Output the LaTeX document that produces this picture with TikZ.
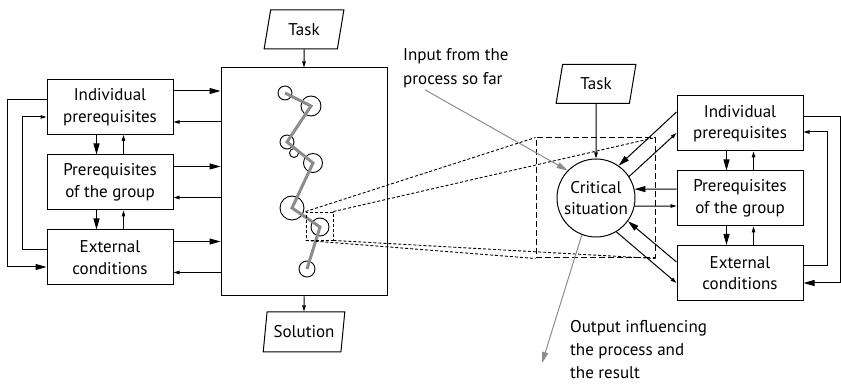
\documentclass[tikz,border=0pt]{standalone}
\usepackage{fontspec}
\setmainfont{PT Sans}
\usetikzlibrary{arrows.meta,shapes.geometric,calc}

\begin{document}
\begin{tikzpicture}[x=1pt,y=-1pt,
      every node/.style={font=\fontsize{17}{21.5}\selectfont},
      fbox/.style={draw,line width=1pt,minimum width=126pt,minimum height=55pt,align=center,inner sep=1pt},
      iobox/.style={draw,line width=1pt,trapezium,trapezium left angle=77,trapezium right angle=103,trapezium stretches=true,minimum width=80pt,minimum height=39pt,inner sep=1pt},
      sit/.style={draw,circle,line width=0.9pt,inner sep=0pt},
      big/.style={-{Triangle[length=11pt,width=6pt]},line width=1pt},
      small/.style={-{Triangle[length=6pt,width=3.5pt]},line width=1pt},
      grey/.style={-{Triangle[length=11pt,width=6pt]},line width=1pt,draw=black!45},
      fine/.style={line width=0.9pt,dash pattern=on 3pt off 2pt},
      coarse/.style={line width=1pt,dash pattern=on 6pt off 3pt},
      note/.style={anchor=north west,align=left,inner sep=0pt}]
    \useasboundingbox (0,0) rectangle (841,387);
    % Left column: influencing factors
    \node[fbox] (lb1) at (110,107) {Individual\\prerequisites};
    \node[fbox] (lb2) at (110,182.5) {Prerequisites\\of the group};
    \node[fbox] (lb3) at (110,257.5) {External\\conditions};
    % Process box with task and solution
    \node[draw,line width=1pt,minimum width=166pt,minimum height=228pt] (proc) at (304,182) {};
    \node[iobox] (task) at (304,29.5) {Task};
    \node[iobox,minimum width=82pt,minimum height=40pt] (sol) at (304,332) {Solution};
    \draw[small] (task.south) -- (proc.north);
    \draw[small] (proc.south) -- (sol.north);
    % Chain of situations inside the process
    \foreach \n/\x/\y/\d in {1/285/93/14, 2/311/106/20, 3/287/142/14, 4/294/153/9,
                             5/313/163/19, 6/292/208/24, 7/320/227/18, 8/307/269/16}
      \node[sit,minimum size=\d pt] (s\n) at (\x,\y) {};
    \draw[line width=3pt,black!45] (s1.center) -- (s2.center) -- (s3.center) -- (s5.center)
      -- (s6.center) -- (s7.center) -- (s8.center);
    % Left column <-> process
    \foreach \b in {lb1,lb2,lb3}{
      \draw[big] ($(\b.east)+(0,-16)$) -- ($(\b.east -| proc.west)+(0,-16)$);
      \draw[small] ($(\b.east -| proc.west)+(0,15)$) -- ($(\b.east)+(0,15)$);
    }
    % Right column: the same factors
    \node[fbox] (rb1) at (740,123.5) {Individual\\prerequisites};
    \node[fbox] (rb2) at (740,198.5) {Prerequisites\\of the group};
    \node[fbox] (rb3) at (740,273) {External\\conditions};
    % Arrows between stacked boxes
    \foreach \a/\b in {lb1/lb2,lb2/lb3,rb1/rb2,rb2/rb3}{
      \draw[big] ($(\a.south)+(-13.5,0)$) -- ($(\b.north)+(-13.5,0)$);
      \draw[small] ($(\b.north)+(13.5,0)$) -- ($(\a.south)+(13.5,0)$);
    }
    % Feedback loops
    \draw[big] ($(lb1.west)+(0,-7)$) -- ++(-39,0) |- ($(lb3.west)+(0,9.5)$);
    \draw[small] ($(lb3.west)+(0,-7.5)$) -- ++(-24,0) |- ($(lb1.west)+(0,10)$);
    \draw[big] ($(rb1.east)+(0,-6.5)$) -- ++(37,0) |- ($(rb3.east)+(0,10)$);
    \draw[small] ($(rb3.east)+(0,-7)$) -- ++(24,0) |- ($(rb1.east)+(0,8.5)$);
    % Zoomed critical situation
    \node[draw,circle,line width=1pt,minimum size=78pt,inner sep=0pt,align=center] (crit) at (596,198) {Critical\\situation};
    \node[iobox] (rtask) at (596,84) {Task};
    \draw[small] (rtask.south) -- (crit.north);
    \draw[big] ($(rb1.west)+(0,-11.5)$) -- (crit.55);
    \draw[small] (crit.33) -- ($(rb1.west)+(0,9.5)$);
    \draw[big] ($(rb2.west)+(0,-9.5)$) -- (crit.13.3);
    \draw[small] (crit.-12) -- ($(rb2.west)+(0,7.5)$);
    \draw[big] ($(rb3.west)+(0,-11)$) -- (crit.-36);
    \draw[small] (crit.-59) -- ($(rb3.west)+(0,10)$);
    % Magnifier frames
    \node[draw,fine,minimum width=27pt,minimum height=28pt,inner sep=0pt] (zs) at (319.5,226) {};
    \node[draw,coarse,minimum width=119pt,minimum height=120pt,inner sep=0pt] (zl) at (595.5,198) {};
    \draw[fine] (zs.north west) -- (zl.north west);
    \draw[fine] (zs.north east) -- (zl.north east);
    \draw[fine] (zs.south west) -- (zl.south west);
    \draw[fine] (zs.south east) -- (zl.south east);
    % Annotations
    \node[note,font=\fontsize{17}{24}\selectfont] (inp) at (403,48) {Input from the\\process so far};
    \draw[grey] ($(inp.south west)+(22,2)$) -- (crit.136);
    \node[note,font=\fontsize{17}{23}\selectfont] (outp) at (570,320) {Output influencing\\the process and\\the result};
    \coordinate (oend) at (542,363);
    \draw[grey] (crit.-111) -- (oend);
  \end{tikzpicture}
\end{document}
